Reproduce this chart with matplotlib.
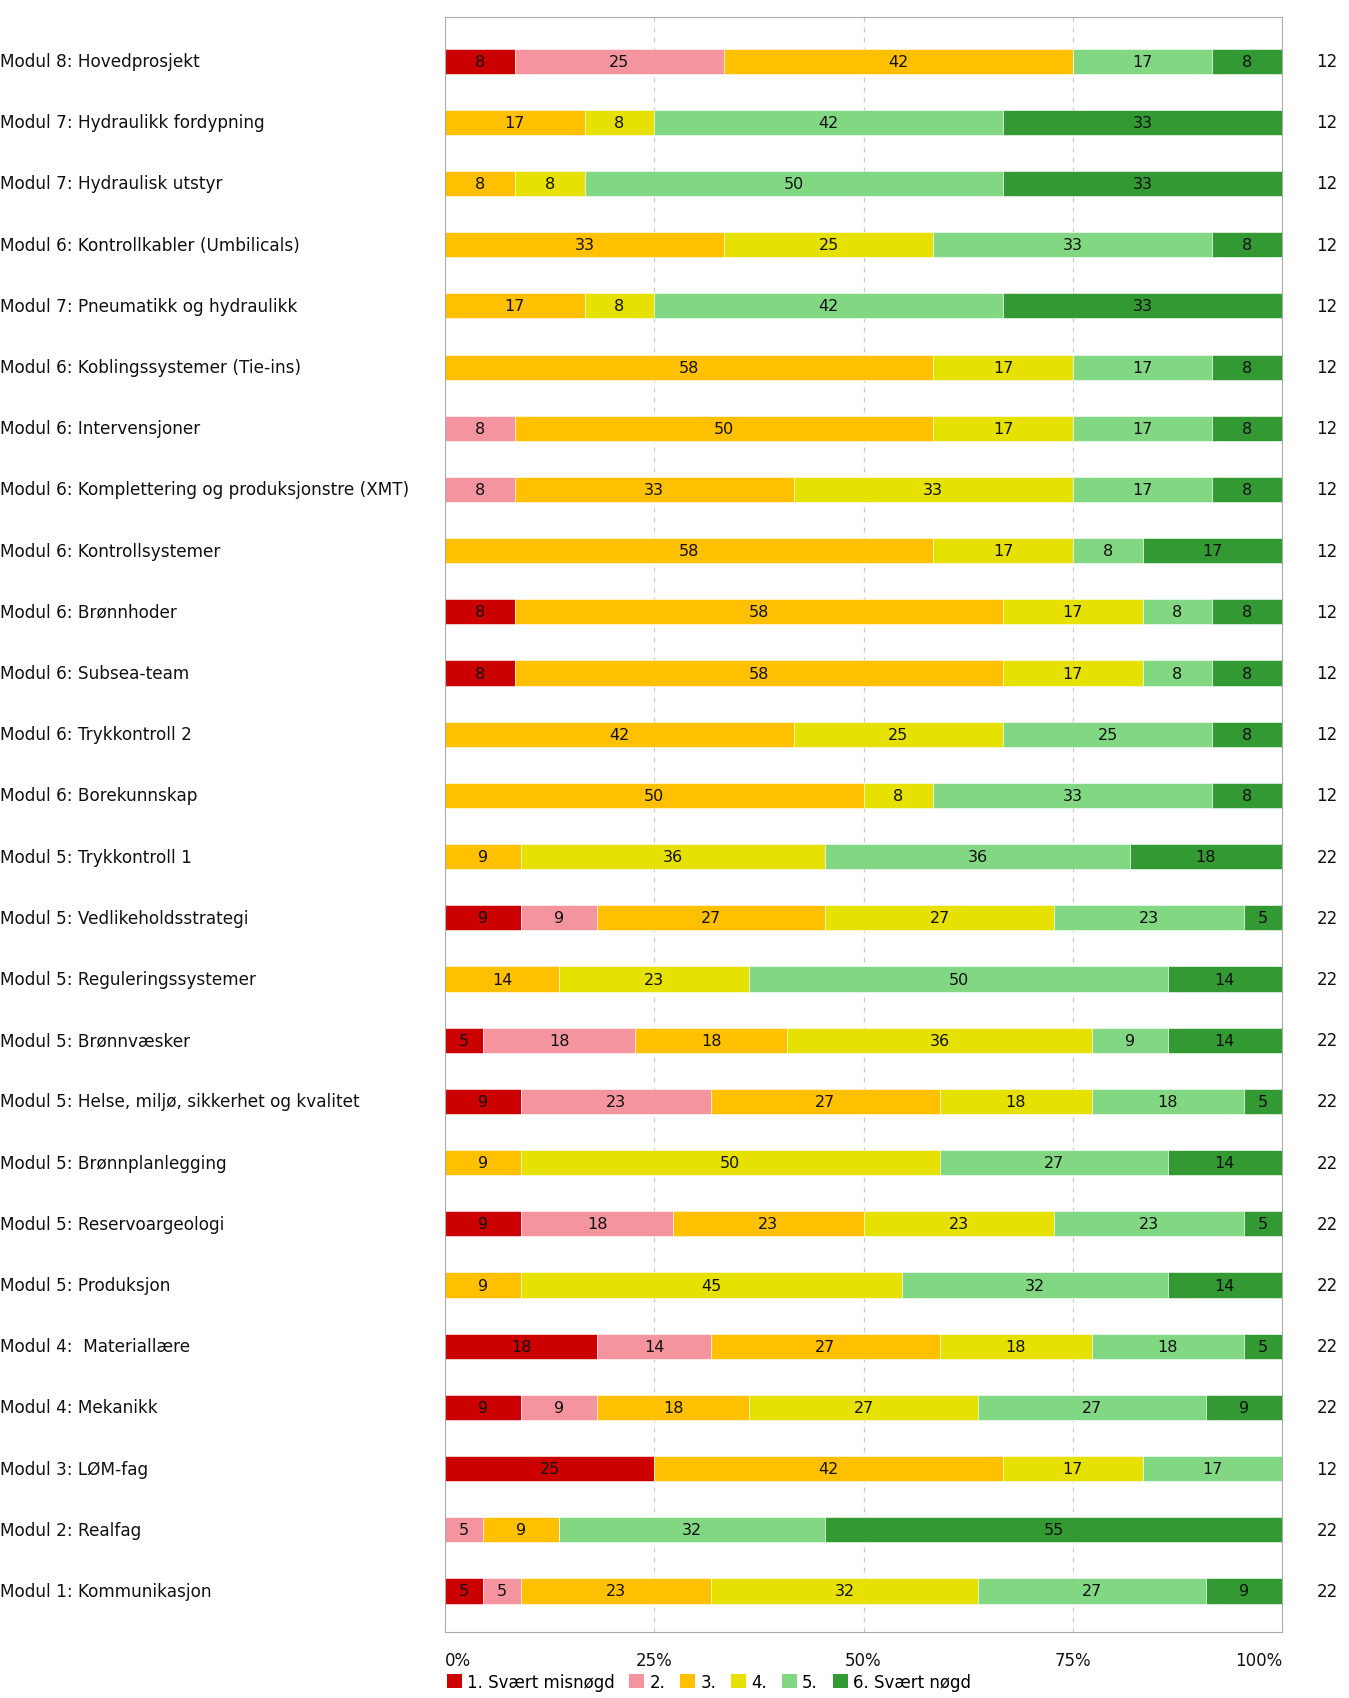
import matplotlib.pyplot as plt
import matplotlib.transforms as mtransforms
from matplotlib.patches import Patch
import numpy as np

plt.rcParams["font.family"] = ["DejaVu Sans"]

# top to bottom, as in the chart
modules = [
    "Modul 8: Hovedprosjekt",
    "Modul 7: Hydraulikk fordypning",
    "Modul 7: Hydraulisk utstyr",
    "Modul 6: Kontrollkabler (Umbilicals)",
    "Modul 7: Pneumatikk og hydraulikk",
    "Modul 6: Koblingssystemer (Tie-ins)",
    "Modul 6: Intervensjoner",
    "Modul 6: Komplettering og produksjonstre (XMT)",
    "Modul 6: Kontrollsystemer",
    "Modul 6: Brønnhoder",
    "Modul 6: Subsea-team",
    "Modul 6: Trykkontroll 2",
    "Modul 6: Borekunnskap",
    "Modul 5: Trykkontroll 1",
    "Modul 5: Vedlikeholdsstrategi",
    "Modul 5: Reguleringssystemer",
    "Modul 5: Brønnvæsker",
    "Modul 5: Helse, miljø, sikkerhet og kvalitet",
    "Modul 5: Brønnplanlegging",
    "Modul 5: Reservoargeologi",
    "Modul 5: Produksjon",
    "Modul 4:  Materiallære",
    "Modul 4: Mekanikk",
    "Modul 3: LØM-fag",
    "Modul 2: Realfag",
    "Modul 1: Kommunikasjon",
]

# number of answers per rating (1..6) for each module
answers = [
    [1, 3, 5, 0, 2, 1],
    [0, 0, 2, 1, 5, 4],
    [0, 0, 1, 1, 6, 4],
    [0, 0, 4, 3, 4, 1],
    [0, 0, 2, 1, 5, 4],
    [0, 0, 7, 2, 2, 1],
    [0, 1, 6, 2, 2, 1],
    [0, 1, 4, 4, 2, 1],
    [0, 0, 7, 2, 1, 2],
    [1, 0, 7, 2, 1, 1],
    [1, 0, 7, 2, 1, 1],
    [0, 0, 5, 3, 3, 1],
    [0, 0, 6, 1, 4, 1],
    [0, 0, 2, 8, 8, 4],
    [2, 2, 6, 6, 5, 1],
    [0, 0, 3, 5, 11, 3],
    [1, 4, 4, 8, 2, 3],
    [2, 5, 6, 4, 4, 1],
    [0, 0, 2, 11, 6, 3],
    [2, 4, 5, 5, 5, 1],
    [0, 0, 2, 10, 7, 3],
    [4, 3, 6, 4, 4, 1],
    [2, 2, 4, 6, 6, 2],
    [3, 0, 5, 2, 2, 0],
    [0, 1, 2, 0, 7, 12],
    [1, 1, 5, 7, 6, 2],
]

ratings = ["1. Svært misnøgd", "2.", "3.", "4.", "5.", "6. Svært nøgd"]
colors = ["#cc0000", "#f4949f", "#ffc000", "#e6e100", "#82d882", "#339933"]
ticks = [0, 25, 50, 75, 100]
tick_labels = ["0%", "25%", "50%", "75%", "100%"]

counts = np.array(answers, dtype=float)
totals = counts.sum(axis=1)
shares = counts / totals[:, None] * 100
y = np.arange(len(modules))

fig = plt.figure(figsize=(13.49, 16.99), dpi=100)
ax = fig.add_axes([445 / 1349, 1 - 1633 / 1699, 837 / 1349, (1633 - 18) / 1699])

left = np.zeros(len(modules))
for k, (name, color) in enumerate(zip(ratings, colors)):
    ax.barh(y, shares[:, k], left=left, height=0.41, color=color,
            edgecolor="white", linewidth=0.4, zorder=2)
    for i in range(len(modules)):
        if counts[i, k] > 0:
            ax.text(left[i] + shares[i, k] / 2, y[i], f"{round(shares[i, k])}",
                    ha="center", va="center", fontsize=11.5, color="#111111", zorder=3)
    left += shares[:, k]

ax.set_xlim(0, 100)
ax.set_ylim(len(modules) - 0.33, -0.72)
for t in ticks[1:-1]:
    ax.axvline(t, color="#cccccc", linestyle=(0, (4, 4)), linewidth=0.9, zorder=1)
for spine in ax.spines.values():
    spine.set_color("#aaaaaa")
ax.set_yticks([])
ax.set_xticks([])

label_tf = mtransforms.blended_transform_factory(fig.transFigure, ax.transData)
for i, name in enumerate(modules):
    ax.text(0.0, y[i], name, transform=label_tf, ha="left", va="center",
            fontsize=12.2, color="#111111")
    ax.text(1327 / 1349, y[i], f"{int(totals[i])}", transform=label_tf,
            ha="center", va="center", fontsize=12, color="#111111")

for t, lab in zip(ticks, tick_labels):
    ha = "left" if t == 0 else ("right" if t == 100 else "center")
    ax.text(t, -0.012, lab, transform=ax.get_xaxis_transform(), ha=ha, va="top",
            fontsize=12, color="#111111")

handles = [Patch(facecolor=c, edgecolor="none") for c in colors]
fig.legend(handles, ratings, loc="center left", bbox_to_anchor=(440 / 1349, 1 - 1683 / 1699),
           ncol=6, frameon=False, fontsize=12, handlelength=0.9, handleheight=0.9,
           handletextpad=0.3, columnspacing=0.9, borderaxespad=0)

fig.savefig("out.png", dpi=100)
